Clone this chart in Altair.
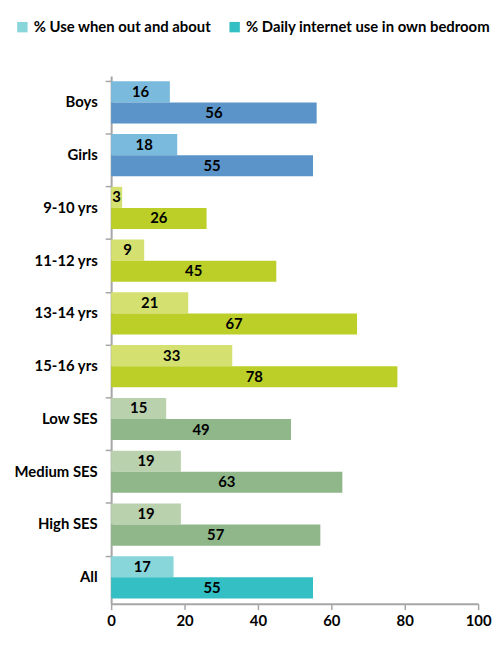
import altair as alt
import pandas as pd

categories = ["Boys", "Girls", "9-10 yrs", "11-12 yrs", "13-14 yrs", "15-16 yrs",
              "Low SES", "Medium SES", "High SES", "All"]
out_about = [16, 18, 3, 9, 21, 33, 15, 19, 19, 17]
bedroom = [56, 55, 26, 45, 67, 78, 49, 63, 57, 55]
series_names = ["% Use when out and about", "% Daily internet use in own bedroom"]
light_colors = ["#7ABADC", "#7ABADC", "#D4E06F", "#D4E06F", "#D4E06F", "#D4E06F",
                "#BAD1AE", "#BAD1AE", "#BAD1AE", "#88D5DA"]
dark_colors = ["#5B94C8", "#5B94C8", "#BCCF28", "#BCCF28", "#BCCF28", "#BCCF28",
               "#8FB78A", "#8FB78A", "#8FB78A", "#34BFC5"]
legend_colors = ["#88D5DA", "#34BFC5"]

rows = []
for i, c in enumerate(categories):
    rows.append({"cat": c, "series": series_names[0], "value": out_about[i], "hex": light_colors[i]})
    rows.append({"cat": c, "series": series_names[1], "value": bedroom[i], "hex": dark_colors[i]})
df = pd.DataFrame(rows)
legend_df = pd.DataFrame({"series": series_names})

FONT = "Lato"
FS = 15

y_enc = alt.Y("cat:N", sort=categories,
              scale=alt.Scale(paddingInner=0.2, paddingOuter=0.1),
              axis=alt.Axis(title=None, labelFont=FONT, labelFontWeight="bold",
                            labelFontSize=FS, labelColor="black", labelPadding=8,
                            domainColor="#A6A6A6", domainWidth=2, tickColor="#A6A6A6",
                            tickWidth=1.5, tickSize=6, bandPosition=0))
yoff = alt.YOffset("series:N", sort=series_names, scale=alt.Scale(paddingInner=0, paddingOuter=0))

bars = alt.Chart(df).mark_bar().encode(
    x=alt.X("value:Q", scale=alt.Scale(domain=[0, 100]),
            axis=alt.Axis(title=None, values=[0, 20, 40, 60, 80, 100], grid=False,
                          labelFont=FONT, labelFontWeight="bold", labelFontSize=FS,
                          labelColor="black", labelPadding=4, labelFlush=False,
                          domainColor="#A6A6A6",
                          domainWidth=2, tickColor="#A6A6A6", tickWidth=1.5, tickSize=6)),
    y=y_enc,
    yOffset=yoff,
    fill=alt.Fill("hex:N", scale=None),
)

labels = alt.Chart(df).transform_calculate(mid="datum.value / 2").mark_text(
    font=FONT, fontWeight="bold", fontSize=FS, color="black"
).encode(
    x="mid:Q",
    y=alt.Y("cat:N", sort=categories),
    yOffset=yoff,
    text="value:Q",
)

legend_layer = alt.Chart(legend_df).mark_square(opacity=0).encode(
    color=alt.Color("series:N", sort=series_names,
                    scale=alt.Scale(domain=series_names, range=legend_colors),
                    legend=alt.Legend(title=None, orient="none", direction="horizontal",
                                      legendX=-97, legendY=-57, symbolType="square",
                                      symbolSize=110, symbolOpacity=1, symbolStrokeWidth=0,
                                      labelFont=FONT, labelFontWeight="bold",
                                      labelFontSize=FS, labelColor="black", labelLimit=400,
                                      columnPadding=16, symbolOffset=0, labelOffset=4)),
    x=alt.value(0),
    y=alt.value(0),
)

chart = alt.layer(bars, labels, legend_layer).properties(
    width=370, height=532,
    autosize=alt.AutoSizeParams(type="none"),
    padding={"left": 104, "top": 66, "right": 18, "bottom": 26},
).configure_view(stroke=None)

chart.save("out.html", embed_options={"renderer": "svg", "actions": False})
